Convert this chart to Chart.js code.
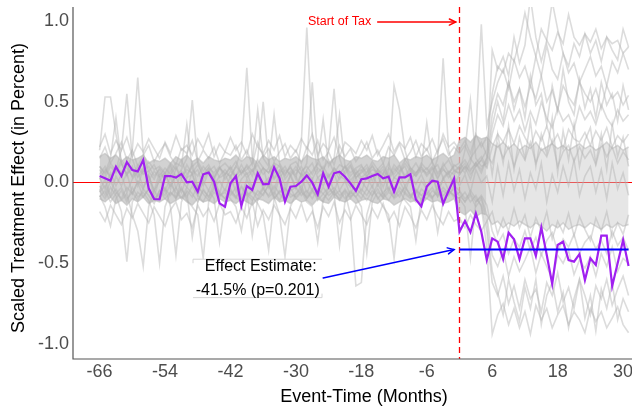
<!DOCTYPE html>
<html>
<head>
<meta charset="utf-8">
<script src="https://cdn.jsdelivr.net/npm/chart.js@4.4.1/dist/chart.umd.min.js"></script>
<style>
html,body{margin:0;padding:0;background:#fff;overflow:hidden;}
#wrap{position:relative;width:660px;height:413px;}
</style>
</head>
<body>
<div id="wrap"><canvas id="c" width="660" height="413"></canvas></div>
<script>
// ---------- DATA ----------
const months = [-66,-65,-64,-63,-62,-61,-60,-59,-58,-57,-56,-55,
  -54,-53,-52,-51,-50,-49,-48,-47,-46,-45,-44,-43,
  -42,-41,-40,-39,-38,-37,-36,-35,-34,-33,-32,-31,
  -30,-29,-28,-27,-26,-25,-24,-23,-22,-21,-20,-19,
  -18,-17,-16,-15,-14,-13,-12,-11,-10,-9,-8,-7,
  -6,-5,-4,-3,-2,-1,
  0,1,2,3,4,5,6,7,8,9,10,11,
  12,13,14,15,16,17,18,19,20,21,22,23,
  24,25,26,27,28,29,30,31];

const xTickValues = [-66,-54,-42,-30,-18,-6,6,18,30];
const yTickValues = [-1.0,-0.5,0.0,0.5,1.0];

const effectEstimate = -0.415;
const effectStart = 0;
const effectEnd = 31;
const taxStart = 0;

// treated unit (purple)
const treated = [0.04,0.026,0.011,0.098,0.04,0.127,0.077,0.069,0.139,-0.036,-0.102,-0.104,
  0.04,0.04,0.03,0.053,0.001,0.005,-0.057,0.051,0.061,0.005,-0.129,-0.15,
  -0.005,0.04,-0.146,-0.022,-0.046,0.057,-0.011,-0.009,0.094,0.026,-0.119,-0.026,
  -0.022,0.005,0.044,-0.001,-0.073,0.057,-0.026,0.057,0.067,0.036,-0.005,-0.051,
  0.02,0.026,0.04,0.053,0.026,0.036,-0.057,0.032,0.032,0.051,-0.105,-0.148,
  -0.025,0.011,0.005,-0.132,-0.052,0.024,
  -0.305,-0.238,-0.308,-0.191,-0.305,-0.48,-0.346,-0.366,-0.474,-0.311,-0.352,-0.474,
  -0.346,-0.346,-0.455,-0.278,-0.449,-0.628,-0.387,-0.366,-0.48,-0.49,-0.443,-0.604,
  -0.47,-0.511,-0.329,-0.329,-0.641,-0.5,-0.356,-0.517];

// dense placebo core (upper / lower edge)
const bandHi = [0.16,0.18,0.15,0.17,0.13,0.16,0.14,0.15,0.17,0.12,0.14,0.13,
  0.15,0.12,0.16,0.14,0.17,0.13,0.15,0.12,0.16,0.14,0.13,0.15,
  0.14,0.17,0.13,0.16,0.15,0.12,0.17,0.14,0.16,0.13,0.15,0.14,
  0.16,0.13,0.17,0.15,0.14,0.16,0.12,0.15,0.17,0.14,0.13,0.16,
  0.15,0.17,0.14,0.13,0.16,0.15,0.17,0.12,0.15,0.14,0.16,0.15,
  0.17,0.14,0.16,0.18,0.15,0.17,
  0.26,0.28,0.25,0.29,0.27,0.28,0.24,0.22,0.25,0.21,0.24,0.2,
  0.23,0.21,0.25,0.2,0.22,0.24,0.21,0.23,0.2,0.22,0.24,0.21,
  0.23,0.2,0.22,0.25,0.21,0.23,0.2,0.22];
const bandLo = [-0.1,-0.12,-0.09,-0.13,-0.11,-0.14,-0.1,-0.12,-0.09,-0.13,-0.11,-0.12,
  -0.1,-0.13,-0.11,-0.09,-0.12,-0.14,-0.1,-0.12,-0.11,-0.13,-0.1,-0.12,
  -0.11,-0.13,-0.1,-0.12,-0.14,-0.1,-0.11,-0.13,-0.09,-0.12,-0.11,-0.13,
  -0.1,-0.12,-0.11,-0.14,-0.1,-0.12,-0.13,-0.09,-0.11,-0.12,-0.1,-0.13,
  -0.11,-0.1,-0.12,-0.13,-0.1,-0.11,-0.14,-0.12,-0.1,-0.12,-0.11,-0.13,
  -0.1,-0.12,-0.11,-0.13,-0.12,-0.1,
  -0.18,-0.2,-0.17,-0.21,-0.19,-0.2,-0.26,-0.24,-0.28,-0.25,-0.27,-0.24,
  -0.26,-0.28,-0.25,-0.27,-0.3,-0.26,-0.28,-0.25,-0.29,-0.27,-0.26,-0.28,
  -0.25,-0.27,-0.29,-0.26,-0.28,-0.25,-0.27,-0.26];

// individual placebo units (grey)
const placebo01 = [0.2,0.53,0.53,0.3,0.12,0.05,0.1,-0.02,0.08,0.04,-0.05,0.06,
  0.02,0.1,-0.04,0.07,0.03,0.12,-0.03,0.05,0.09,-0.02,0.04,0.08,
  0.03,0.1,0.2,0.71,0.15,0.05,0.09,-0.03,0.06,0.11,0.02,0.07,
  0.04,-0.05,0.08,0.12,0.03,0.06,-0.02,0.09,0.05,0.1,0.01,0.06,
  0.08,0.03,0.11,0.05,-0.03,0.07,0.6,0.45,0.2,0.08,0.04,0.1,
  0.05,0.09,0.02,0.12,0.06,0.1,
  0.12,0.08,0.15,0.1,0.14,0.2,0.55,0.72,0.68,0.8,0.75,0.88,
  1.05,0.9,0.78,0.95,0.88,0.82,0.93,0.86,1.04,0.9,0.85,0.92,
  0.87,0.95,0.83,0.9,0.86,0.88,0.8,0.84];
const placebo02 = [0.05,0.1,0.02,0.08,0.2,0.55,0.15,0.04,0.09,0.01,0.07,0.03,
  0.06,-0.04,0.09,0.02,0.11,0.05,0.08,-0.02,0.07,0.1,0.03,0.05,
  0.09,0.02,0.06,0.1,0.04,0.15,0.5,0.12,0.03,0.08,0.05,0.1,
  0.02,0.25,0.96,0.3,0.06,0.1,0.04,0.08,0.02,0.07,0.11,0.03,
  0.06,0.09,0.01,0.08,0.05,0.12,0.03,0.07,0.1,0.02,0.06,0.09,
  0.04,0.08,0.11,0.03,0.07,0.05,
  0.1,0.06,0.12,0.3,0.98,0.35,0.5,0.62,0.7,0.58,0.76,0.65,
  0.72,0.6,0.78,0.66,0.85,0.7,0.64,0.8,0.68,0.74,0.62,0.7,
  0.78,0.66,0.72,0.6,0.75,0.68,0.8,0.7];
const placebo03 = [0.08,0.03,0.1,0.06,0.12,0.04,0.2,0.65,0.18,0.07,0.02,0.09,
  0.05,0.11,0.03,0.08,0.15,0.51,0.12,0.04,0.09,0.06,0.1,0.02,
  0.07,0.04,0.11,0.05,0.08,0.02,0.09,0.06,0.12,0.03,0.08,0.05,
  0.1,0.04,0.07,0.02,0.09,0.06,0.2,0.58,0.15,0.05,0.1,0.03,
  0.07,0.11,0.04,0.08,0.02,0.09,0.05,0.1,0.03,0.07,0.12,0.06,
  0.09,0.04,0.15,0.77,0.2,0.08,
  0.05,0.1,0.07,0.12,0.08,0.15,0.42,0.55,0.48,0.62,0.5,0.58,
  0.47,0.6,0.52,0.66,0.5,0.57,0.45,0.6,0.53,0.48,0.62,0.55,
  0.5,0.58,0.46,0.6,0.52,0.56,0.48,0.54];
const placebo04 = [0.1,0.06,0.15,0.4,0.12,0.05,0.09,0.03,0.07,0.1,0.04,0.08,
  0.02,0.07,0.12,0.1,0.36,0.08,0.04,0.1,0.06,0.03,0.09,0.05,
  0.1,0.04,0.08,0.03,0.07,0.11,0.05,0.09,0.02,0.06,0.1,0.04,
  0.08,0.05,0.12,0.62,0.15,0.07,0.03,0.09,0.05,0.1,0.04,0.08,
  0.03,0.06,0.1,0.05,0.08,0.02,0.07,0.11,0.04,0.09,0.06,0.1,
  0.37,0.12,0.05,0.09,0.03,0.07,
  0.06,0.2,0.51,0.15,0.1,0.12,0.3,0.42,0.35,0.48,0.38,0.45,
  0.32,0.44,0.36,0.5,0.4,0.34,0.46,0.38,0.42,0.33,0.47,0.39,
  0.44,0.36,0.48,0.4,0.35,0.45,0.38,0.42];
const placebo05 = [0.02,0.08,0.04,0.1,0.06,0.12,0.03,0.09,0.05,0.07,0.11,0.04,
  0.09,0.05,0.1,0.03,0.08,0.06,0.11,0.04,0.07,0.02,0.09,0.06,
  0.04,0.1,0.06,0.08,0.12,0.45,0.15,0.1,0.42,0.12,0.06,0.09,
  0.05,0.1,0.03,0.07,0.12,0.39,0.1,0.15,0.42,0.1,0.06,0.09,
  0.11,0.04,0.08,0.06,0.1,0.03,0.09,0.05,0.12,0.07,0.04,0.08,
  0.06,0.1,0.03,0.08,0.05,0.11,
  0.08,0.12,0.05,0.1,0.14,0.09,0.22,0.3,0.25,0.33,0.24,0.35,
  0.28,0.22,0.32,0.26,0.35,0.24,0.3,0.21,0.33,0.27,0.25,0.31,
  0.23,0.32,0.26,0.34,0.22,0.29,0.25,0.3];
const placebo06 = [-0.08,-0.15,-0.27,-0.1,-0.05,-0.12,-0.03,-0.09,-0.06,-0.11,-0.2,-0.5,
  -0.15,-0.06,-0.1,-0.04,-0.09,-0.02,-0.08,-0.12,-0.05,-0.1,-0.37,-0.12,
  -0.06,-0.1,-0.03,-0.08,-0.05,-0.11,-0.07,-0.02,-0.09,-0.2,-0.46,-0.15,
  -0.07,-0.04,-0.1,-0.06,-0.09,-0.03,-0.08,-0.05,-0.11,-0.06,-0.2,-0.64,
  -0.62,-0.2,-0.08,-0.04,-0.1,-0.06,-0.09,-0.03,-0.07,-0.1,-0.05,-0.08,
  -0.04,-0.09,-0.06,-0.11,-0.05,-0.08,
  -0.1,-0.06,-0.12,-0.08,-0.15,-0.4,-0.94,-0.82,-0.75,-0.88,-0.78,-0.9,
  -0.8,-0.94,-0.76,-0.85,-0.78,-0.9,-0.82,-0.76,-0.88,-0.8,-0.85,-0.93,
  -0.78,-0.86,-0.8,-0.9,-0.84,-0.77,-0.88,-0.93];
const placebo07 = [-0.05,-0.1,-0.03,-0.08,-0.18,-0.49,-0.12,-0.06,-0.09,-0.04,-0.1,-0.07,
  -0.03,-0.15,-0.45,-0.12,-0.05,-0.09,-0.02,-0.07,-0.11,-0.04,-0.08,-0.06,
  -0.1,-0.15,-0.3,-0.1,-0.05,-0.08,-0.03,-0.09,-0.06,-0.11,-0.04,-0.07,
  -0.09,-0.05,-0.12,-0.15,-0.37,-0.1,-0.06,-0.03,-0.08,-0.05,-0.1,-0.04,
  -0.07,-0.11,-0.05,-0.09,-0.15,-0.2,-0.47,-0.15,-0.06,-0.09,-0.04,-0.08,
  -0.1,-0.05,-0.08,-0.03,-0.07,-0.04,
  -0.08,-0.12,-0.05,-0.1,-0.14,-0.3,-0.62,-0.7,-0.58,-0.75,-0.64,-0.78,
  -0.6,-0.72,-0.66,-0.8,-0.62,-0.7,-0.56,-0.74,-0.65,-0.78,-0.6,-0.7,
  -0.82,-0.64,-0.72,-0.6,-0.76,-0.66,-0.58,-0.7];
const placebo08 = [-0.06,-0.02,-0.09,-0.04,-0.11,-0.07,-0.2,-0.3,-0.52,-0.15,-0.05,-0.1,
  -0.04,-0.08,-0.03,-0.1,-0.06,-0.34,-0.12,-0.05,-0.09,-0.03,-0.07,-0.1,
  -0.05,-0.09,-0.12,-0.06,-0.33,-0.1,-0.04,-0.08,-0.02,-0.07,-0.11,-0.05,
  -0.03,-0.08,-0.05,-0.1,-0.04,-0.07,-0.11,-0.06,-0.39,-0.12,-0.05,-0.09,
  -0.04,-0.08,-0.02,-0.1,-0.06,-0.03,-0.09,-0.05,-0.11,-0.15,-0.36,-0.1,
  -0.07,-0.03,-0.09,-0.05,-0.08,-0.02,
  -0.05,-0.1,-0.07,-0.12,-0.09,-0.2,-0.45,-0.52,-0.42,-0.58,-0.46,-0.55,
  -0.48,-0.4,-0.56,-0.44,-0.52,-0.6,-0.45,-0.5,-0.42,-0.57,-0.48,-0.53,
  -0.46,-0.58,-0.44,-0.52,-0.4,-0.55,-0.47,-0.5];
const placebo09 = [-0.09,-0.05,-0.12,-0.07,-0.03,-0.1,-0.06,-0.11,-0.04,-0.08,-0.13,-0.05,
  -0.1,-0.06,-0.09,-0.03,-0.11,-0.15,-0.2,-0.47,-0.12,-0.06,-0.09,-0.04,
  -0.08,-0.03,-0.1,-0.06,-0.09,-0.13,-0.2,-0.42,-0.1,-0.05,-0.08,-0.03,
  -0.1,-0.06,-0.09,-0.04,-0.11,-0.07,-0.03,-0.08,-0.05,-0.1,-0.06,-0.09,
  -0.15,-0.44,-0.12,-0.06,-0.09,-0.04,-0.1,-0.07,-0.03,-0.08,-0.05,-0.11,
  -0.06,-0.09,-0.31,-0.12,-0.05,-0.08,
  -0.1,-0.15,-0.47,-0.12,-0.08,-0.14,-0.3,-0.38,-0.32,-0.44,-0.35,-0.4,
  -0.3,-0.42,-0.34,-0.45,-0.36,-0.31,-0.43,-0.35,-0.4,-0.32,-0.44,-0.37,
  -0.33,-0.41,-0.36,-0.44,-0.3,-0.39,-0.34,-0.42];
const placebo10 = [0.15,0.22,0.12,0.18,0.25,0.14,0.2,0.1,0.17,0.23,0.13,0.19,
  0.24,0.16,0.11,0.21,0.18,0.26,0.13,0.2,0.15,0.22,0.12,0.19,
  0.17,0.23,0.14,0.2,0.11,0.25,0.16,0.21,0.13,0.19,0.24,0.15,
  0.2,0.12,0.22,0.17,0.26,0.14,0.19,0.11,0.23,0.16,0.21,0.13,
  0.18,0.25,0.15,0.2,0.12,0.22,0.17,0.24,0.14,0.19,0.26,0.16,
  0.21,0.13,0.2,0.27,0.17,0.22,
  0.18,0.23,0.15,0.2,0.25,0.17,0.12,0.24,0.15,0.22,0.1,0.2,
  0.14,0.25,0.12,0.21,0.16,0.26,0.1,0.19,0.23,0.13,0.22,0.15,
  0.2,0.11,0.24,0.16,0.22,0.12,0.19,0.14];
const placebo11 = [-0.18,-0.24,-0.14,-0.2,-0.26,-0.16,-0.22,-0.13,-0.19,-0.25,-0.15,-0.21,
  -0.27,-0.17,-0.12,-0.23,-0.19,-0.28,-0.14,-0.21,-0.16,-0.24,-0.13,-0.2,
  -0.18,-0.25,-0.15,-0.22,-0.12,-0.27,-0.17,-0.23,-0.14,-0.2,-0.26,-0.16,
  -0.22,-0.13,-0.24,-0.18,-0.28,-0.15,-0.21,-0.12,-0.25,-0.17,-0.23,-0.14,
  -0.2,-0.26,-0.16,-0.22,-0.13,-0.24,-0.18,-0.27,-0.15,-0.21,-0.28,-0.17,
  -0.23,-0.14,-0.21,-0.26,-0.18,-0.24,
  -0.22,-0.28,-0.2,-0.26,-0.3,-0.24,-0.18,-0.32,-0.22,-0.3,-0.16,-0.28,
  -0.2,-0.34,-0.22,-0.3,-0.18,-0.35,-0.24,-0.31,-0.19,-0.33,-0.21,-0.29,
  -0.36,-0.22,-0.3,-0.18,-0.34,-0.25,-0.32,-0.2];
const placebo12 = [0.03,-0.04,0.06,-0.02,0.05,-0.06,0.02,0.07,-0.03,0.04,-0.05,0.01,
  0.06,-0.02,0.04,-0.06,0.03,0.05,-0.04,0.02,0.07,-0.03,0.01,-0.05,
  0.04,-0.06,0.02,0.06,-0.03,0.05,-0.01,0.03,-0.05,0.07,-0.02,0.04,
  -0.04,0.06,0.01,-0.05,0.03,-0.02,0.05,-0.06,0.04,0.02,-0.03,0.06,
  0.01,-0.04,0.05,-0.02,0.06,-0.05,0.03,0.01,-0.06,0.04,-0.01,0.05,
  -0.03,0.04,-0.05,0.02,0.06,-0.02,
  0.05,0.1,0.02,0.12,0.06,0.15,0.35,0.5,0.38,0.62,0.45,0.58,
  0.4,0.66,0.48,0.55,0.36,0.6,0.44,0.7,0.5,0.42,0.64,0.46,
  0.58,0.4,0.62,0.48,0.55,0.38,0.6,0.45];
const placebo13 = [-0.02,-0.08,0.01,-0.06,-0.1,-0.03,-0.07,0.0,-0.09,-0.04,-0.11,-0.05,
  -0.08,-0.01,-0.06,-0.1,-0.03,-0.07,-0.12,-0.04,-0.09,0.0,-0.06,-0.1,
  -0.04,-0.09,-0.02,-0.07,-0.11,-0.05,-0.08,-0.01,-0.1,-0.06,-0.03,-0.09,
  -0.07,-0.02,-0.1,-0.05,-0.08,-0.12,-0.03,-0.07,-0.1,-0.04,-0.09,-0.06,
  -0.1,-0.04,-0.08,-0.01,-0.07,-0.11,-0.05,-0.09,-0.02,-0.08,-0.12,-0.04,
  -0.07,-0.1,-0.03,-0.08,-0.05,-0.09,
  -0.06,-0.12,-0.08,-0.15,-0.1,-0.25,-0.55,-0.68,-0.82,-0.6,-0.74,-0.86,
  -0.65,-0.78,-0.6,-0.88,-0.7,-0.62,-0.8,-0.68,-0.9,-0.72,-0.6,-0.84,
  -0.7,-0.92,-0.66,-0.78,-0.62,-0.85,-0.72,-0.8];
const placebo14 = [0.1,0.05,0.12,0.07,0.14,0.09,0.04,0.11,0.06,0.13,0.08,0.1,
  0.06,0.12,0.08,0.14,0.05,0.1,0.13,0.07,0.11,0.04,0.09,0.12,
  0.08,0.13,0.05,0.11,0.07,0.14,0.09,0.06,0.12,0.1,0.04,0.11,
  0.13,0.07,0.1,0.05,0.12,0.08,0.14,0.06,0.11,0.09,0.13,0.05,
  0.1,0.06,0.13,0.08,0.12,0.04,0.11,0.07,0.14,0.09,0.05,0.12,
  0.08,0.13,0.06,0.1,0.14,0.07,
  0.1,0.14,0.08,0.12,0.16,0.1,0.82,0.7,0.78,0.66,0.9,0.74,
  0.85,1.15,0.9,0.75,0.88,1.12,0.95,0.8,0.72,0.86,0.78,0.92,
  0.8,0.88,0.75,0.9,0.82,0.76,0.95,0.84];
const placebo15 = [-0.05,0.02,-0.08,0.04,-0.02,0.06,-0.07,0.01,-0.04,0.05,-0.09,0.03,
  -0.06,0.04,-0.1,0.02,-0.03,0.06,-0.08,0.01,-0.05,0.03,-0.07,0.05,
  -0.02,0.04,-0.09,0.02,-0.05,0.07,-0.04,0.01,-0.08,0.03,-0.06,0.05,
  -0.03,0.05,-0.07,0.02,-0.1,0.04,-0.02,0.06,-0.05,0.01,-0.08,0.03,
  -0.06,0.04,-0.03,0.07,-0.09,0.02,-0.05,0.05,-0.02,0.03,-0.07,0.01,
  -0.04,0.06,-0.08,0.03,-0.05,0.04,
  -0.02,0.05,-0.06,0.08,0.0,0.04,-0.12,0.1,-0.08,0.12,-0.05,0.08,
  -0.1,0.06,-0.04,0.12,-0.12,0.05,-0.06,0.1,-0.02,0.14,-0.08,0.04,
  0.1,-0.06,0.08,-0.1,0.12,-0.04,0.06,-0.08];
const placebo16 = [0.22,0.3,0.18,0.26,0.2,0.28,0.16,0.24,0.19,0.27,0.21,0.15,
  0.25,0.18,0.29,0.2,0.23,0.17,0.27,0.21,0.3,0.16,0.24,0.19,
  0.28,0.2,0.25,0.17,0.3,0.22,0.18,0.26,0.2,0.29,0.16,0.23,
  0.19,0.27,0.21,0.3,0.17,0.24,0.2,0.28,0.16,0.25,0.22,0.18,
  0.26,0.2,0.29,0.17,0.23,0.3,0.19,0.25,0.21,0.28,0.16,0.24,
  0.2,0.27,0.18,0.3,0.22,0.25,
  0.2,0.26,0.18,0.3,0.22,0.28,0.05,0.3,0.12,0.35,0.08,0.28,
  0.15,0.38,0.1,0.3,0.18,0.4,0.06,0.32,0.14,0.36,0.1,0.26,
  0.34,0.12,0.3,0.08,0.36,0.16,0.28,0.1];

const placebos = [placebo01,placebo02,placebo03,placebo04,placebo05,placebo06,placebo07,placebo08,
  placebo09,placebo10,placebo11,placebo12,placebo13,placebo14,placebo15,placebo16];

// ---------- BUILD ----------
[treated,bandHi,bandLo,...placebos].forEach((a,i)=>{
  if(a.length!==months.length) throw new Error('length mismatch in series '+i+': '+a.length);
});
const toXY = (arr, from, to) => months.map((m,i)=>({x:m,y:arr[i]}))
  .filter(p => (from===undefined || p.x>=from) && (to===undefined || p.x<=to));

const GREY = 'rgba(178,178,178,0.45)';
const FONT = '"Liberation Sans", Arial, sans-serif';
const datasets = [];
datasets.push({data:toXY(bandLo,-66,5),borderColor:'rgba(194,194,194,0.7)',borderWidth:1.5,backgroundColor:'transparent',fill:false,order:40});
datasets.push({data:toXY(bandHi,-66,5),borderColor:'rgba(194,194,194,0.7)',borderWidth:1.5,backgroundColor:'rgba(197,197,197,0.78)',fill:'-1',order:40});
datasets.push({data:toXY(bandLo,5,31),borderColor:'rgba(194,194,194,0.65)',borderWidth:1.5,backgroundColor:'transparent',fill:false,order:39});
datasets.push({data:toXY(bandHi,5,31),borderColor:'rgba(194,194,194,0.65)',borderWidth:1.5,backgroundColor:'rgba(200,200,200,0.45)',fill:'-1',order:39});
placebos.forEach(p=>datasets.push({data:toXY(p),borderColor:GREY,borderWidth:1.6,fill:false,order:20}));
datasets.push({label:'treated',data:toXY(treated),borderColor:'#A020F0',borderWidth:2.2,fill:false,order:2});
datasets.push({label:'estimate',data:[{x:effectStart,y:effectEstimate},{x:effectEnd,y:effectEstimate}],borderColor:'#0000FF',borderWidth:1.8,fill:false,order:1});

function arrow(ctx,x1,y1,x2,y2,color,w,head){
  ctx.save();
  ctx.strokeStyle=color;ctx.lineWidth=w;ctx.lineCap='round';
  ctx.beginPath();ctx.moveTo(x1,y1);ctx.lineTo(x2,y2);ctx.stroke();
  const a=Math.atan2(y2-y1,x2-x1), s=0.45;
  ctx.beginPath();
  ctx.moveTo(x2-head*Math.cos(a-s),y2-head*Math.sin(a-s));
  ctx.lineTo(x2,y2);
  ctx.lineTo(x2-head*Math.cos(a+s),y2-head*Math.sin(a+s));
  ctx.stroke();
  ctx.restore();
}

const refLines = {
  id:'refLines',
  beforeDatasetsDraw(chart){
    const {ctx,chartArea:ca,scales:{x,y}} = chart;
    ctx.save();
    ctx.beginPath();ctx.rect(ca.left,ca.top,ca.right-ca.left,ca.bottom-ca.top);ctx.clip();
    ctx.strokeStyle='#FF0000';ctx.lineWidth=1.2;
    ctx.beginPath();ctx.moveTo(ca.left,y.getPixelForValue(0));ctx.lineTo(ca.right,y.getPixelForValue(0));ctx.stroke();
    const xv=x.getPixelForValue(taxStart);
    ctx.setLineDash([6,4]);ctx.lineWidth=1.3;
    ctx.beginPath();ctx.moveTo(xv,ca.top);ctx.lineTo(xv,ca.bottom);ctx.stroke();
    ctx.restore();
  },
  afterDatasetsDraw(chart){
    const {ctx,chartArea:ca,scales:{x,y}} = chart;
    ctx.save();
    const ty=y.getPixelForValue(0.994);
    ctx.fillStyle='#FF0000';
    ctx.font='12.5px '+FONT;
    ctx.textAlign='center';ctx.textBaseline='middle';
    ctx.fillText('Start of Tax',x.getPixelForValue(-22),ty);
    arrow(ctx,x.getPixelForValue(-15),ty,x.getPixelForValue(-0.7),ty,'#FF0000',1.5,7);
    arrow(ctx,x.getPixelForValue(-25),y.getPixelForValue(-0.591),x.getPixelForValue(-1),y.getPixelForValue(effectEstimate),'#0000FF',1.5,7);
    const cx=x.getPixelForValue(-37), cy=y.getPixelForValue(-0.594);
    const L=cx-64.7,R=cx+64.3,T=cy-19.2,B=cy+19.2;
    ctx.fillStyle='#fff';ctx.fillRect(L,T,R-L,B-T);
    ctx.strokeStyle='#d4d4d4';ctx.lineWidth=1;
    ctx.beginPath();
    ctx.moveTo(L,T+4);ctx.lineTo(L,T);ctx.lineTo(R,T);
    ctx.moveTo(L,B);ctx.lineTo(R,B);ctx.lineTo(R,B-4);
    ctx.stroke();
    ctx.fillStyle='#000';
    ctx.font='16px '+FONT;
    ctx.fillText('Effect Estimate:',cx+3,cy-11.5);
    ctx.fillText('-41.5% (p=0.201)',cx,cy+12.5);
    // axis lines
    ctx.strokeStyle='#555';ctx.lineWidth=1.2;
    ctx.beginPath();ctx.moveTo(ca.left,ca.top);ctx.lineTo(ca.left,ca.bottom);ctx.lineTo(ca.right,ca.bottom);ctx.stroke();
    // y-axis title
    ctx.save();
    ctx.translate(19,188);ctx.rotate(-Math.PI/2);
    ctx.fillStyle='#000';ctx.font='18px '+FONT;ctx.textAlign='center';ctx.textBaseline='middle';
    ctx.fillText('Scaled Treatment Effect (in Percent)',0,0);
    ctx.restore();
    ctx.restore();
  }
};

new Chart(document.getElementById('c'),{
  type:'line',
  data:{datasets},
  options:{
    responsive:false,animation:false,devicePixelRatio:1,
    layout:{padding:{top:7,right:5,left:0,bottom:0}},
    elements:{point:{radius:0},line:{tension:0}},
    plugins:{legend:{display:false},tooltip:{enabled:false}},
    scales:{
      x:{type:'linear',min:-70.875,max:35.85,
        grid:{display:false,drawTicks:false},border:{display:false},
        afterBuildTicks:s=>{s.ticks=xTickValues.map(v=>({value:v}));},
        afterFit:s=>{s.height=54;s.paddingLeft=0;s.paddingRight=0;},
        ticks:{autoSkip:false,maxRotation:0,padding:2,color:'#4d4d4d',
          font:{family:FONT,size:18},
          callback:v=>String(v)},
        title:{display:true,text:'Event-Time (Months)',color:'#000',
          font:{family:FONT,size:18},padding:{top:0,bottom:5}}
      },
      y:{type:'linear',min:-1.093,max:1.087,
        grid:{display:false,drawTicks:false},border:{display:false},
        afterBuildTicks:s=>{s.ticks=yTickValues.map(v=>({value:v}));},
        afterFit:s=>{s.width=73;s.paddingTop=0;s.paddingBottom=0;},
        ticks:{padding:4,color:'#4d4d4d',
          font:{family:FONT,size:18},
          callback:v=>Number(v).toFixed(1)},
        title:{display:false}
      }
    }
  },
  plugins:[refLines]
});
</script>
</body>
</html>
